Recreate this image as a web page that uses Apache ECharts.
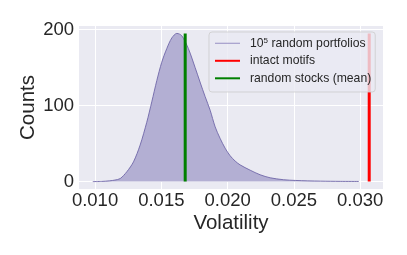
<!DOCTYPE html>
<html>
<head>
<meta charset="utf-8">
<script src="https://cdn.jsdelivr.net/npm/echarts@6/dist/echarts.min.js"></script>
<style>html,body{margin:0;padding:0;background:#fff}#c{width:407px;height:255px}</style>
</head>
<body>
<div id="c"></div>
<script>
// KDE of volatility over 10^5 random portfolios
const kdeVolatility = [0.00983, 0.0105, 0.0111, 0.0115, 0.0119, 0.0124, 0.0129, 0.0134, 0.0139, 0.01428, 0.01466, 0.01503, 0.01541, 0.01579, 0.01617, 0.01654, 0.01704, 0.01755, 0.01792, 0.0183, 0.01868, 0.01906, 0.01943, 0.01981, 0.02019, 0.02057, 0.02094, 0.0217, 0.02245, 0.02321, 0.0242, 0.0251, 0.0270, 0.0285, 0.0299];
const kdeCounts = [0, 0.2, 1, 2, 4, 13, 26, 48, 78, 105, 133, 157, 175, 189, 195, 192, 175, 150, 131, 112, 94, 72, 57, 44, 34, 27, 22, 15, 9, 5, 2.5, 1.5, 0.6, 0.3, 0.2];
const intactMotifsVolatility = 0.03068;
const randomStocksMeanVolatility = 0.0168;
const lineHeightCount = 195;
const xTicks = [0.010, 0.015, 0.020, 0.025, 0.030];
const yTicks = [0, 100, 200];
const seriesNames = ['10^5 random portfolios', 'intact motifs', 'random stocks (mean)'];

const font = '"Liberation Sans", Arial, sans-serif';
const kdeData = kdeVolatility.map((v, i) => [v, kdeCounts[i]]);

const chart = echarts.init(document.getElementById('c'), null, {renderer: 'canvas'});
chart.setOption({
  animation: false,
  backgroundColor: '#ffffff',
  grid: {left: 79, right: 24, top: 26, bottom: 66, show: true, backgroundColor: '#EAEAF2', borderWidth: 0},
  xAxis: {
    type: 'value', min: 0.00879, max: 0.03172,
    name: 'Volatility', nameLocation: 'middle', nameGap: 24, nameMoveOverlap: false,
    nameTextStyle: {fontFamily: font, fontSize: 20.5, color: '#262626', verticalAlign: 'top'},
    axisLine: {show: false},
    axisTick: {show: false, customValues: xTicks},
    axisLabel: {customValues: xTicks, fontFamily: font, fontSize: 18.5, color: '#262626', margin: 2,
      formatter: v => v.toFixed(3)},
    splitLine: {show: true, lineStyle: {color: '#ffffff', width: 1}}
  },
  yAxis: {
    type: 'value', min: -9.75, max: 204.75,
    name: 'Counts', nameLocation: 'middle', nameGap: 40, nameRotate: 90, nameMoveOverlap: false,
    nameTextStyle: {fontFamily: font, fontSize: 20.5, color: '#262626'},
    axisLine: {show: false},
    axisTick: {show: false, customValues: yTicks},
    axisLabel: {customValues: yTicks, fontFamily: font, fontSize: 18.5, color: '#262626', margin: 5},
    splitLine: {show: true, lineStyle: {color: '#ffffff', width: 1}}
  },
  legend: {
    orient: 'vertical', left: 209, top: 32,
    padding: [4.3, 4, 6.7, 5],
    itemWidth: 25, itemHeight: 14, itemGap: 3.5,
    backgroundColor: 'rgba(234,234,242,0.8)',
    borderColor: 'rgba(204,204,204,0.8)', borderWidth: 1, borderRadius: 3,
    itemStyle: {opacity: 0},
    textStyle: {fontFamily: font, fontSize: 12.2, color: '#262626', lineHeight: 14, padding: [0, 0, 0, 5],
      rich: {
        base: {fontFamily: font, fontSize: 12.2, lineHeight: 14, color: '#262626'},
        sup: {fontFamily: font, fontSize: 8, lineHeight: 6, verticalAlign: 'top', color: '#262626'}
      }},
    formatter: name => name === seriesNames[0] ? '{base|10}{sup|5}{base| random portfolios}' : name,
    data: [
      {name: seriesNames[0], lineStyle: {color: '#a49ecb', width: 1.2}},
      {name: seriesNames[1]},
      {name: seriesNames[2]}
    ]
  },
  series: [
    {
      name: seriesNames[0], type: 'line', data: kdeData, smooth: 0.3, symbol: 'none',
      lineStyle: {color: '#6f66a8', width: 0.9},
      itemStyle: {color: '#6f66a8'},
      areaStyle: {color: '#b3afd3', opacity: 1},
      z: 2
    },
    {
      name: seriesNames[1], type: 'line', symbol: 'none',
      data: [[intactMotifsVolatility, 0], [intactMotifsVolatility, lineHeightCount]],
      lineStyle: {color: '#ff0000', width: 3}, itemStyle: {color: '#ff0000'}, z: 3
    },
    {
      name: seriesNames[2], type: 'line', symbol: 'none',
      data: [[randomStocksMeanVolatility, 0], [randomStocksMeanVolatility, lineHeightCount]],
      lineStyle: {color: '#008000', width: 3}, itemStyle: {color: '#008000'}, z: 3
    }
  ]
});
</script>
</body>
</html>
